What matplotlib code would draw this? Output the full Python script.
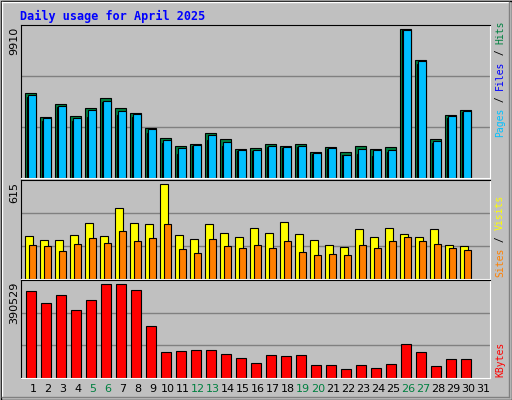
import matplotlib
matplotlib.use("Agg")
import matplotlib.pyplot as plt
from matplotlib.patches import Rectangle
import numpy as np

days = list(range(1, 32))
hits = [5672,4059,4932,4126,4664,5336,4664,4328,3320,2648,2110,2244,2984,2580,1908,1976,2244,2110,2244,1707,2043,1707,2110,1908,2043,9910,7822,2580,4193,4529]
files = [5538,3991,4798,3991,4529,5134,4462,4260,3251,2511,1973,2175,2847,2377,1838,1838,2107,2040,2107,1637,1973,1502,1906,1838,1838,9843,7757,2444,4125,4462]
pages = [5403,3789,4731,3789,4058,5067,4193,4058,2982,2309,1569,2107,2511,2107,1771,1771,2040,1973,2040,1569,1906,1502,1569,1435,1704,9843,7556,2309,3991,4394]
visits = [281,254,254,287,361,281,461,361,354,615,287,261,354,301,274,328,301,368,294,254,221,207,321,274,328,294,274,321,221,214]
sites = [221,214,180,227,267,234,314,247,267,354,194,167,261,214,201,221,201,247,174,154,160,154,221,201,247,274,247,227,201,187]
kbytes = [364778,313280,347611,283240,326154,390529,390529,369069,218867,107288,111579,115871,115871,98705,81539,64373,94413,90122,94413,55790,55790,38624,55790,42915,60081,141620,107288,51498,77247,77247]
weekends = [5,6,12,13,19,20,26,27]

W, H = 512, 400
BG = "#C0C0C0"
fig = plt.figure(figsize=(W/100, H/100), dpi=100, facecolor=BG)
mono = "DejaVu Sans Mono"

fa = fig.add_axes([0, 0, 1, 1]); fa.set_xlim(0, W); fa.set_ylim(H, 0); fa.axis("off")
fa.add_patch(Rectangle((0.5, 0.5), W-1, H-1, fill=False, ec="black", lw=1))
fa.plot([2, W-3], [2, 2], color="white", lw=1)
fa.plot([2, 2], [2, H-3], color="white", lw=1)
fa.plot([2, W-3], [H-3, H-3], color="#808080", lw=1)
fa.plot([W-3, W-3], [2, H-3], color="#808080", lw=1)
fa.text(20, 16, "Daily usage for April 2025", color="#0000FF", fontsize=8.5,
        fontweight="bold", family=mono, va="center", ha="left")

def pax(y0, y1):
    ax = fig.add_axes([21/W, 1-y1/H, (490-21)/W, (y1-y0)/H])
    ax.set_facecolor(BG)
    ax.set_xlim(0.2, 31.47)
    ax.set_xticks([]); ax.set_yticks([])
    for s in ["left", "top"]:
        ax.spines[s].set_color("black")
    for s in ["right", "bottom"]:
        ax.spines[s].set_color("white")
    return ax

x = np.arange(1, 31)
ek = dict(edgecolor="black", linewidth=0.8)

ax1 = pax(25, 178)
top1 = 9910*152/148
ax1.set_ylim(0, top1)
for g in (top1/3, 2*top1/3):
    ax1.axhline(g, color="#808080", lw=1, zorder=0)
ax1.bar(x-0.5, hits, width=0.72, align="edge", color="#008040", **ek)
ax1.bar(x-0.4, pages, width=0.5, align="edge", color="#0000FF", **ek)
ax1.bar(x-0.3, files, width=0.52, align="edge", color="#00C0FF", **ek)

ax2 = pax(180, 279)
top2 = 615*96/92
ax2.set_ylim(0, top2)
for g in (top2/3, 2*top2/3):
    ax2.axhline(g, color="#808080", lw=1, zorder=0)
ax2.bar(x-0.51, visits, width=0.53, align="edge", color="#FFFF00", **ek)
ax2.bar(x-0.25, sites, width=0.47, align="edge", color="#FF8000", **ek)

ax3 = pax(280, 378)
top3 = 390529*95.3/91
ax3.set_ylim(0, top3)
for g in (top3/3, 2*top3/3):
    ax3.axhline(g, color="#808080", lw=1, zorder=0)
ax3.bar(x-0.45, kbytes, width=0.67, align="edge", color="#FF0000", **ek)

for txt, y in (("9910", 25), ("615", 180), ("390529", 280)):
    fa.text(14, y+2, txt, rotation=90, ha="center", va="top", fontsize=8, color="black")

FS = 7
ADV = 0.6*FS*100/72
def rlegend(parts, ybottom):
    y = ybottom
    for t, c in parts:
        fa.text(500, y, t, rotation=90, ha="center", va="bottom", fontsize=FS,
                family=mono, color=c)
        y -= len(t)*ADV
rlegend([("Pages", "#00C0FF"), (" / ", "#000000"), ("Files", "#0000FF"), (" / ", "#000000"), ("Hits", "#008040")], 137)
rlegend([("Sites", "#FF8000"), (" / ", "#000000"), ("Visits", "#FFFF00")], 277)
rlegend([("KBytes", "#FF0000")], 377)

for d in days:
    c = "#008040" if d in weekends else "black"
    fa.text(33 + 15*(d-1), 389, str(d), ha="center", va="center", fontsize=8, color=c)

fig.savefig("out.png", dpi=100, facecolor=BG)
